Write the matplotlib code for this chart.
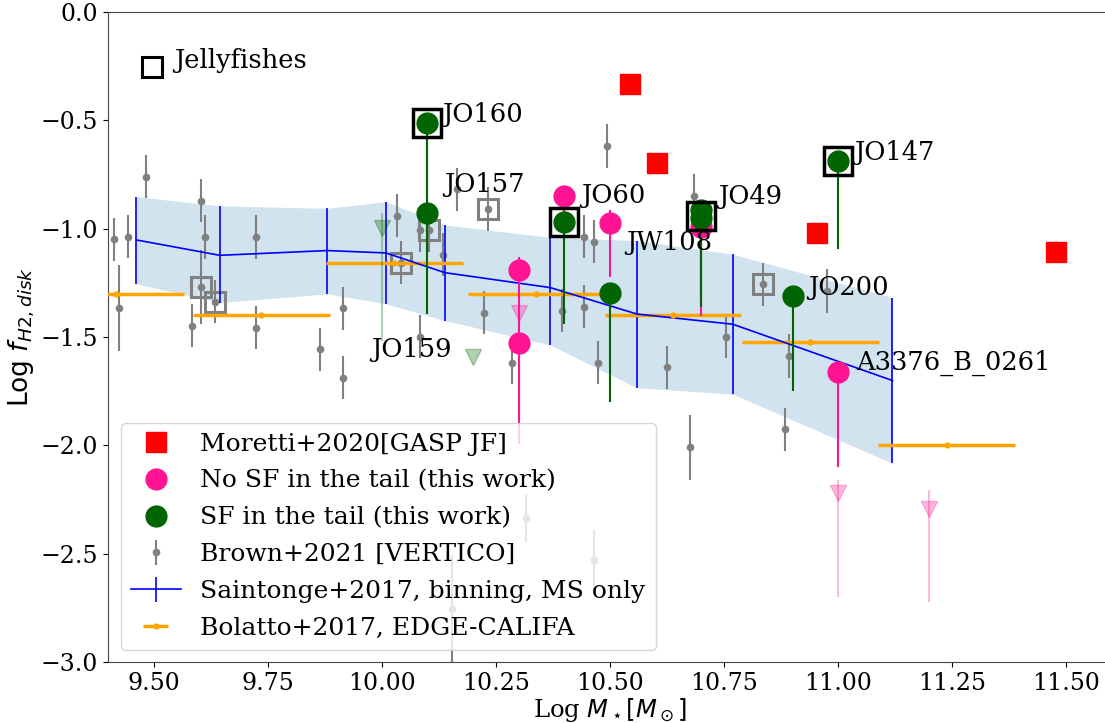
import matplotlib
matplotlib.use("Agg")
import matplotlib.pyplot as plt
import numpy as np

plt.rcParams['font.family'] = 'serif'
plt.rcParams['font.serif'] = ['DejaVu Serif']
plt.rcParams['mathtext.fontset'] = 'dejavusans'

# ---------------- data ----------------
# Saintonge+2017 binned MS relation
sai_x = [9.462, 9.645, 9.880, 10.009, 10.138, 10.369, 10.559, 10.769, 11.119]
sai_y = [-1.052, -1.123, -1.101, -1.112, -1.203, -1.272, -1.394, -1.441, -1.701]
sai_up = [-0.852, -0.895, -0.906, -0.875, -0.983, -1.040, -1.055, -1.118, -1.318]
sai_lo = [-1.255, -1.341, -1.301, -1.347, -1.424, -1.537, -1.734, -1.764, -2.083]

# Bolatto+2017 EDGE-CALIFA bins
bol_x = [9.417, 9.736, 10.027, 10.338, 10.638, 10.939, 11.238]
bol_y = [-1.303, -1.398, -1.157, -1.303, -1.400, -1.524, -2.000]
bol_xerr = [0.15, 0.15, 0.15, 0.15, 0.15, 0.15, 0.15]

# Brown+2021 VERTICO
ver_x = [9.413, 9.444, 9.483, 9.424, 9.603, 9.613, 9.603, 9.634, 9.584, 9.724,
         9.724, 9.864, 9.914, 9.914, 10.033, 10.043, 10.084, 10.104, 10.084, 10.135,
         10.164, 10.233, 10.224, 10.285, 10.494, 10.444, 10.464, 10.684, 10.394, 10.444,
         10.474, 10.624, 10.755, 10.835, 10.976, 10.893, 10.884, 10.675, 10.315, 10.464,
         10.153]
ver_y = [-1.049, -1.037, -0.760, -1.366, -0.871, -1.038, -1.268, -1.337, -1.448, -1.038,
         -1.457, -1.557, -1.367, -1.688, -0.940, -1.157, -1.006, -1.006, -1.498, -1.120,
         -0.818, -0.909, -1.388, -1.618, -0.618, -1.037, -1.060, -0.849, -1.378, -1.360,
         -1.618, -1.640, -1.498, -1.257, -1.288, -1.587, -1.926, -2.009, -2.337, -2.529,
         -2.757]
ver_err = [0.10, 0.10, 0.10, 0.20, 0.10, 0.10, 0.17, 0.10, 0.10, 0.10,
           0.10, 0.10, 0.10, 0.10, 0.10, 0.10, 0.10, 0.10, 0.10, 0.10,
           0.10, 0.10, 0.10, 0.10, 0.10, 0.10, 0.10, 0.10, 0.10, 0.10,
           0.10, 0.10, 0.10, 0.10, 0.10, 0.10, 0.10, 0.15, 0.11, 0.14,
           0.25]
# VERTICO jellyfish (gray open squares)
vjf_x = [9.603, 9.634, 10.043, 10.104, 10.233, 10.835]
vjf_y = [-1.268, -1.337, -1.157, -1.006, -0.909, -1.257]

# Moretti+2020 GASP JF
mor_x = [10.544, 10.602, 10.954, 11.477]
mor_y = [-0.332, -0.695, -1.021, -1.108]

# This work: no SF in the tail
nsf_x = [10.40, 10.50, 10.30, 10.30, 10.70, 11.00]
nsf_y = [-0.848, -0.972, -1.190, -1.526, -0.991, -1.660]
nsf_lo = [0.10, 0.25, 0.34, 0.47, 0.41, 0.44]
nsf_up = [0.00, 0.06, 0.06, 0.00, 0.00, 0.00]
# upper limits (no SF)
nsf_lim_x = [10.30, 11.00, 11.20]
nsf_lim_y = [-1.391, -2.221, -2.295]
nsf_lim_lo = [0.50, 0.48, 0.43]
nsf_lim_up = [0.06, 0.06, 0.09]

# This work: SF in the tail
sf_x = [10.10, 10.10, 10.40, 10.50, 10.70, 10.70, 11.00, 10.90]
sf_y = [-0.514, -0.926, -0.971, -1.298, -0.914, -0.952, -0.686, -1.311]
sf_lo = [0.41, 0.47, 0.47, 0.50, 0.40, 0.41, 0.41, 0.44]
sf_up = [0.00, 0.00, 0.00, 0.00, 0.046, 0.00, 0.00, 0.00]
# upper limits (SF)
sf_lim_x = [10.00, 10.20]
sf_lim_y = [-0.998, -1.594]
sf_lim_lo = [0.52, 0.0]
sf_lim_up = [0.07, 0.0]

# Jellyfish (black open squares)
jf_x = [10.10, 10.40, 10.70, 11.00]
jf_y = [-0.514, -0.971, -0.941, -0.686]

# Labels
lab_text = ['JO160', 'JO157', 'JO159', 'JO60', 'JW108', 'JO49', 'JO147', 'JO200', 'A3376_B_0261']
lab_x = [10.133, 10.137, 9.976, 10.437, 10.535, 10.736, 11.034, 10.934, 11.040]
lab_y = [-0.475, -0.798, -1.560, -0.845, -1.065, -0.852, -0.649, -1.272, -1.621]

# ---------------- plot ----------------
fig = plt.figure(figsize=(11.05, 7.23), dpi=100)
ax = fig.add_axes([108 / 1105, 61 / 723, 1004 / 1105, 650 / 723])

ax.fill_between(sai_x, sai_lo, sai_up, color='C0', alpha=0.2, lw=0, zorder=1)

ax.errorbar(ver_x, ver_y, yerr=ver_err, fmt='o', color='gray', ms=4.5,
            elinewidth=1.5, label='Brown+2021 [VERTICO]', zorder=2)
ax.plot(vjf_x, vjf_y, 's', mfc='none', mec='gray', ms=14, mew=2.2, zorder=2)

sai_x_a = np.array(sai_x)
sai_y_a = np.array(sai_y)
ax.errorbar(sai_x_a, sai_y_a,
            yerr=[sai_y_a - np.array(sai_lo), np.array(sai_up) - sai_y_a],
            color='blue', lw=1.2, elinewidth=1.2,
            label='Saintonge+2017, binning, MS only', zorder=3)

ax.errorbar(bol_x, bol_y, xerr=bol_xerr, fmt='.', color='orange', ms=7,
            elinewidth=2.5, label='Bolatto+2017, EDGE-CALIFA', zorder=3)

# limits
ax.errorbar(nsf_lim_x, nsf_lim_y, yerr=[nsf_lim_lo, nsf_lim_up], fmt='v',
            color='deeppink', ms=12, alpha=0.3, elinewidth=1.5, zorder=4)
ax.errorbar(sf_lim_x, sf_lim_y, yerr=[sf_lim_lo, sf_lim_up], fmt='v',
            color='darkgreen', ms=12, alpha=0.3, elinewidth=1.5, zorder=4)

# stems
ax.errorbar(nsf_x, nsf_y, yerr=[nsf_lo, nsf_up], fmt='none',
            ecolor='deeppink', elinewidth=1.5, zorder=4)
ax.errorbar(sf_x, sf_y, yerr=[sf_lo, sf_up], fmt='none',
            ecolor='darkgreen', elinewidth=1.5, zorder=4)

ax.plot(mor_x, mor_y, 's', color='red', ms=14, label='Moretti+2020[GASP JF]', zorder=5)
ax.plot(nsf_x, nsf_y, 'o', color='deeppink', ms=15,
        label='No SF in the tail (this work)', zorder=5)
ax.plot(sf_x, sf_y, 'o', color='darkgreen', ms=15,
        label='SF in the tail (this work)', zorder=6)

ax.plot(jf_x, jf_y, 's', mfc='none', mec='black', ms=20, mew=2.5, zorder=7)
ax.plot([9.497], [-0.252], 's', mfc='none', mec='black', ms=14, mew=2.2, zorder=7)
ax.text(9.545, -0.222, 'Jellyfishes', fontsize=18.5, va='center', ha='left')

for t, x, y in zip(lab_text, lab_x, lab_y):
    ax.text(x, y, t, fontsize=18.5, va='center', ha='left', zorder=8)

ax.set_xlim(9.4, 11.6)
ax.set_ylim(-3.0, 0.0)
ax.set_xticks(np.arange(9.5, 11.51, 0.25))
ax.set_yticks(np.arange(-3.0, 0.01, 0.5))
ax.tick_params(labelsize=17)
ax.set_xlabel(r'Log $M_\star[M_\odot]$', fontsize=17.5, labelpad=1)
ax.set_ylabel(r'Log $f_{H2,disk}$', fontsize=19, family='DejaVu Sans', labelpad=3)
for s in ax.spines.values():
    s.set_color('#444444')

handles, labels = ax.get_legend_handles_labels()
order = ['Moretti+2020[GASP JF]', 'No SF in the tail (this work)',
         'SF in the tail (this work)', 'Brown+2021 [VERTICO]',
         'Saintonge+2017, binning, MS only', 'Bolatto+2017, EDGE-CALIFA']
hd = dict(zip(labels, handles))
ax.legend([hd[k] for k in order], order, loc='lower left', fontsize=18,
          labelspacing=0.55)

fig.savefig('out.png', dpi=100)
